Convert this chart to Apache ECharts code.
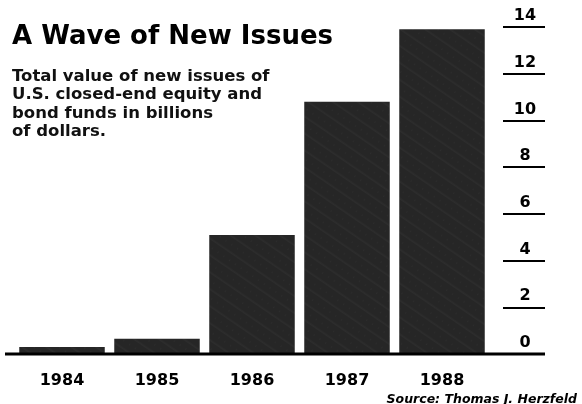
<!DOCTYPE html>
<html>
<head>
<meta charset="utf-8">
<script src="https://cdn.jsdelivr.net/npm/echarts@6/dist/echarts.min.js"></script>
<style>
html,body{margin:0;padding:0;background:#fff;}
#chart{width:582px;height:404px;}
</style>
</head>
<body>
<div id="chart"></div>
<script>
const categories = ['1984', '1985', '1986', '1987', '1988'];
const newIssues = [0.3, 0.65, 5.1, 10.8, 13.9];
const tickValues = [0, 2, 4, 6, 8, 10, 12, 14];

const chart = echarts.init(document.getElementById('chart'), null, {renderer: 'canvas'});
const option = {
  backgroundColor: '#ffffff',
  animation: false,
  title: [
    {
      text: 'A Wave of New Issues',
      left: 7, top: 19,
      textStyle: {fontFamily: 'DejaVu Sans', fontWeight: 'bold', fontSize: 26, color: '#000'}
    },
    {
      text: 'Total value of new issues of\nU.S. closed-end equity and\nbond funds in billions\nof dollars.',
      left: 7, top: 62,
      textStyle: {fontFamily: 'DejaVu Sans', fontWeight: 'bold', fontSize: 16.5, lineHeight: 18.5, color: '#111'}
    },
    {
      text: 'Source: Thomas J. Herzfeld',
      right: 0, top: 388,
      textStyle: {fontFamily: 'DejaVu Sans', fontWeight: 'bold', fontStyle: 'italic', fontSize: 12.5, color: '#000'}
    }
  ],
  grid: {left: 14.5, right: 92.5, top: 27, bottom: 50},
  xAxis: {
    type: 'category',
    data: categories,
    axisLine: {show: false},
    axisTick: {show: false},
    axisLabel: {margin: 19, fontFamily: 'DejaVu Sans', fontWeight: 'bold', fontSize: 16, color: '#000'}
  },
  yAxis: {
    type: 'value',
    position: 'right',
    offset: 13.5,
    min: 0, max: 14, interval: 2,
    splitLine: {show: false},
    axisLine: {show: false},
    axisTick: {show: true, length: 42, inside: false, lineStyle: {color: '#000', width: 2}},
    axisLabel: {
      margin: 22, align: 'center', verticalAlign: 'bottom', padding: [0, 0, 3, 0],
      fontFamily: 'DejaVu Sans', fontWeight: 'bold', fontSize: 16, color: '#000',
      formatter: function (v) { return tickValues.indexOf(v) >= 0 ? String(v) : ''; }
    }
  },
  graphic: [
    {type: 'line', shape: {x1: 5, y1: 354, x2: 545, y2: 354}, style: {stroke: '#000', lineWidth: 3}, z: 10}
  ],
  series: [{
    type: 'bar',
    data: newIssues,
    barWidth: '90%',
    itemStyle: {
      color: '#262626',
      decal: {
        symbol: 'circle',
        symbolSize: 0.5,
        color: 'rgba(255,255,255,0.3)',
        dashArrayX: [[1, 0], [1, 6]],
        dashArrayY: [2, 5],
        rotation: 0.6
      }
    }
  }],
  aria: {enabled: true, decal: {show: true}}
};
chart.setOption(option);
</script>
</body>
</html>
